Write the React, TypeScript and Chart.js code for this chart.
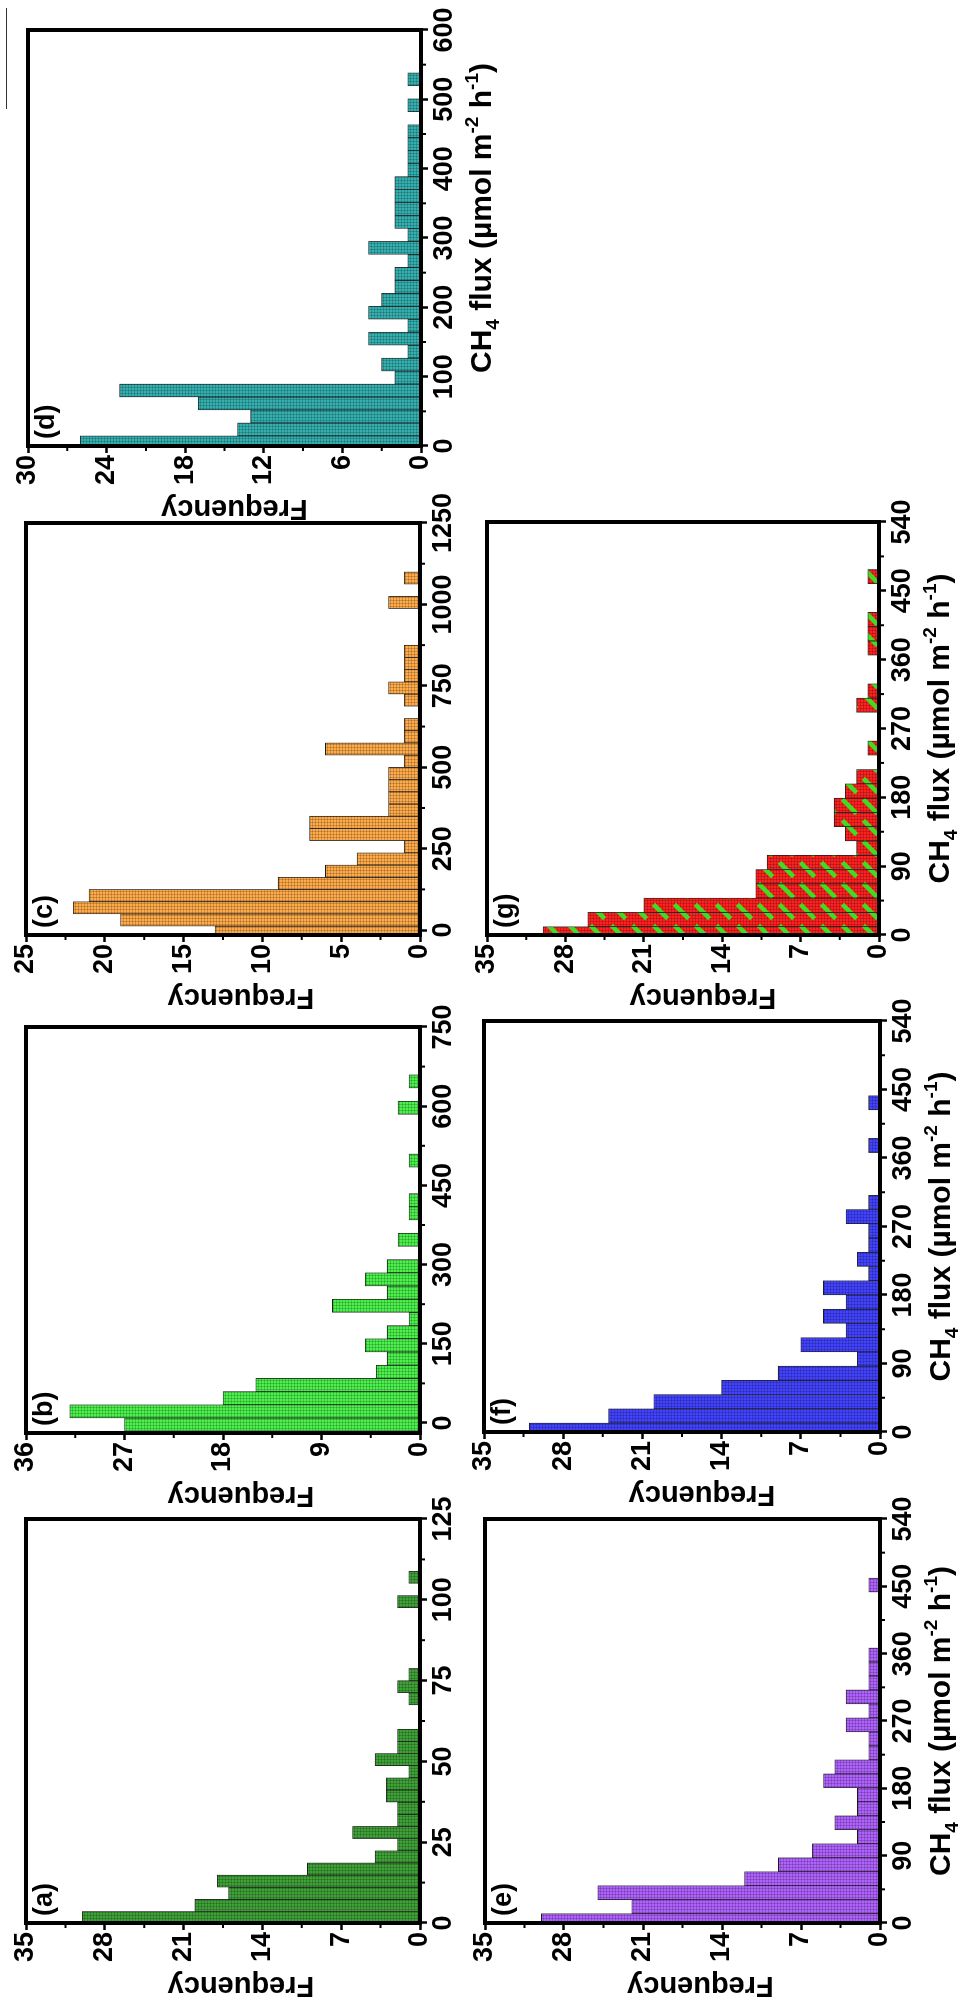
import React, { useEffect, useRef } from 'react';
import { Chart, registerables } from 'chart.js';

Chart.register(...registerables);

const FONT = 'Arial, "Liberation Sans", Helvetica, sans-serif';

// ---------- data (bin centres of CH4 flux, and counts) ----------
const fluxBinsA = [1.68, 5.44, 9.2, 12.96, 16.72, 20.48, 24.24, 28.0, 31.76, 35.52, 39.28, 43.04, 46.8, 50.56, 54.32, 58.08, 61.84, 65.6, 69.36, 73.12, 76.88, 80.64, 84.4, 88.16, 91.92, 95.68, 99.44, 103.2, 106.96];
const countsA = [30, 20, 17, 18, 10, 4, 2, 6, 2, 2, 3, 3, 1, 4, 2, 2, 0, 0, 1, 2, 1, 0, 0, 0, 0, 0, 2, 0, 1];

const fluxBinsB = [-3, 22, 47, 72, 97, 122, 147, 172, 197, 222, 247, 272, 297, 322, 347, 372, 397, 422, 447, 472, 497, 522, 547, 572, 597, 622, 647];
const countsB = [27, 32, 18, 15, 4, 3, 5, 3, 1, 8, 3, 5, 3, 0, 2, 0, 1, 1, 0, 0, 1, 0, 0, 0, 2, 0, 1];

const fluxBinsC = [-6.45, 31.05, 68.55, 106.05, 143.55, 181.05, 218.55, 256.05, 293.55, 331.05, 368.55, 406.05, 443.55, 481.05, 518.55, 556.05, 593.55, 631.05, 668.55, 706.05, 743.55, 781.05, 818.55, 856.05, 893.55, 931.05, 968.55, 1006.05, 1043.55, 1081.05];
const countsC = [13, 19, 22, 21, 9, 6, 4, 1, 7, 7, 2, 2, 2, 2, 1, 6, 1, 1, 0, 1, 2, 1, 1, 1, 0, 0, 0, 2, 0, 1];

const fluxBinsD = [5.25, 23.95, 42.65, 61.35, 80.05, 98.75, 117.45, 136.15, 154.85, 173.55, 192.25, 210.95, 229.65, 248.35, 267.05, 285.75, 304.45, 323.15, 341.85, 360.55, 379.25, 397.95, 416.65, 435.35, 454.05, 472.75, 491.45, 510.15, 528.85];
const countsD = [26, 14, 13, 17, 23, 2, 3, 1, 4, 1, 4, 3, 2, 2, 1, 4, 1, 2, 2, 2, 2, 1, 1, 1, 1, 0, 1, 0, 1];

const fluxBinsE = [3.16, 21.85, 40.54, 59.23, 77.92, 96.61, 115.3, 133.99, 152.68, 171.37, 190.06, 208.75, 227.44, 246.13, 264.82, 283.51, 302.2, 320.89, 339.58, 358.27, 376.96, 395.65, 414.34, 433.03, 451.72];
const countsE = [30, 22, 25, 12, 9, 6, 2, 4, 2, 2, 5, 4, 1, 1, 3, 1, 3, 1, 1, 1, 0, 0, 0, 0, 1];

const fluxBinsF = [2.45, 21.15, 39.85, 58.55, 77.25, 95.95, 114.65, 133.35, 152.05, 170.75, 189.45, 208.15, 226.85, 245.55, 264.25, 282.95, 301.65, 320.35, 339.05, 357.75, 376.45, 395.15, 413.85, 432.55];
const countsF = [31, 24, 20, 14, 9, 2, 7, 3, 5, 3, 5, 1, 2, 1, 1, 3, 1, 0, 0, 0, 1, 0, 0, 1];

const fluxBinsG = [1.56, 20.24, 38.92, 57.6, 76.28, 94.96, 113.64, 132.32, 151.0, 169.68, 188.36, 207.04, 225.72, 244.4, 263.08, 281.76, 300.44, 319.12, 337.8, 356.48, 375.16, 393.84, 412.52, 431.2, 449.88, 468.56];
const countsG = [30, 26, 21, 11, 11, 10, 2, 3, 4, 4, 3, 2, 0, 1, 0, 0, 2, 1, 0, 0, 1, 1, 1, 0, 0, 1];

// ---------- tick labels ----------
const fluxTicksA = [0, 25, 50, 75, 100, 125];
const fluxTicksB = [0, 150, 300, 450, 600, 750];
const fluxTicksC = [0, 250, 500, 750, 1000, 1250];
const fluxTicksD = [0, 100, 200, 300, 400, 500, 600];
const fluxTicksEFG = [0, 90, 180, 270, 360, 450, 540];
const freqTicksA = [0, 7, 14, 21, 28, 35];
const freqTicksB = [0, 9, 18, 27, 36];
const freqTicksC = [0, 5, 10, 15, 20, 25];
const freqTicksD = [0, 6, 12, 18, 24, 30];

// ---------- texts ----------
const panelLabels = ['(a)', '(b)', '(c)', '(d)', '(e)', '(f)', '(g)'];
const freqTitle = 'Frequency';
const fluxTitleParts = ['CH', '4', ' flux (\u00b5mol m', '-2', ' h', '-1', ')'];
const fluxTitleKinds = ['n', 'sub', 'n', 'sup', 'n', 'sup', 'n'];

// ---------- layout (figure drawn landscape 2015 x 960, then rotated) ----------
const Y_AXIS_W = 92;
const PAD_TOP = 26;
const PAD_RIGHT = 34;

const PANELS = [
  { key: 'a', label: panelLabels[0], bins: fluxBinsA, counts: countsA, xTicks: fluxTicksA, yTicks: freqTicksA, xMin: 0, xMax: 125, yMax: 35, color: '#3fa238', hatch: null, box: { l: 92, r: 496, t: 26, b: 420 }, title: false, titleShift: 0, freqShift: 18 },
  { key: 'b', label: panelLabels[1], bins: fluxBinsB, counts: countsB, xTicks: fluxTicksB, yTicks: freqTicksB, xMin: -19, xMax: 750, yMax: 36, color: '#4cf24c', hatch: null, box: { l: 582, r: 988, t: 26, b: 420 }, title: false, titleShift: 0, freqShift: 18 },
  { key: 'c', label: panelLabels[2], bins: fluxBinsC, counts: countsC, xTicks: fluxTicksC, yTicks: freqTicksC, xMin: -15, xMax: 1250, yMax: 25, color: '#ffab4a', hatch: null, box: { l: 1080, r: 1492, t: 26, b: 420 }, title: false, titleShift: 0, freqShift: 18 },
  { key: 'd', label: panelLabels[3], bins: fluxBinsD, counts: countsD, xTicks: fluxTicksD, yTicks: freqTicksD, xMin: 0, xMax: 600, yMax: 30, color: '#35b0b0', hatch: null, box: { l: 1569, r: 1985, t: 28, b: 421 }, title: true, titleShift: 20, freqShift: 10 },
  { key: 'e', label: panelLabels[4], bins: fluxBinsE, counts: countsE, xTicks: fluxTicksEFG, yTicks: freqTicksA, xMin: 0, xMax: 540, yMax: 35, color: '#b062ff', hatch: null, box: { l: 92, r: 496, t: 485, b: 880 }, title: true, titleShift: 0, freqShift: 18 },
  { key: 'f', label: panelLabels[5], bins: fluxBinsF, counts: countsF, xTicks: fluxTicksEFG, yTicks: freqTicksA, xMin: 0, xMax: 540, yMax: 35, color: '#4242ff', hatch: null, box: { l: 583, r: 994, t: 484, b: 880 }, title: true, titleShift: 0, freqShift: 20 },
  { key: 'g', label: panelLabels[6], bins: fluxBinsG, counts: countsG, xTicks: fluxTicksEFG, yTicks: freqTicksA, xMin: 0, xMax: 540, yMax: 35, color: '#ff2020', hatch: '#40dc22', box: { l: 1080, r: 1493, t: 487, b: 879 }, title: true, titleShift: 0, freqShift: 20 },
];

function makeFill(ctx: any, base: string, hatch: string | null) {
  const size = hatch ? 21 : 3;
  const c = document.createElement('canvas');
  c.width = size;
  c.height = size;
  const g = c.getContext('2d') as CanvasRenderingContext2D;
  g.fillStyle = base;
  g.fillRect(0, 0, size, size);
  g.fillStyle = 'rgba(0,0,0,0.18)';
  for (let i = 0; i < size; i += 3) {
    g.fillRect(0, i, size, 1);
    g.fillRect(i, 0, 1, size);
  }
  if (hatch) {
    g.strokeStyle = hatch;
    g.lineWidth = 4.5;
    g.beginPath();
    g.moveTo(size * 0.84, size * 0.16);
    g.lineTo(size * 0.16, size * 0.84);
    g.stroke();
  }
  return ctx.createPattern(c, 'repeat');
}

function minors(arr: number[]) {
  const out: number[] = [];
  for (let i = 1; i < arr.length; i++) out.push((arr[i] + arr[i - 1]) / 2);
  return out;
}

function drawFluxTitle(ctx: CanvasRenderingContext2D, cx: number, baseline: number) {
  const main = `bold 30px ${FONT}`;
  const small = `bold 19px ${FONT}`;
  let total = 0;
  const widths: number[] = [];
  fluxTitleParts.forEach((t, i) => {
    ctx.font = fluxTitleKinds[i] === 'n' ? main : small;
    const w = ctx.measureText(t).width;
    widths.push(w);
    total += w;
  });
  let x = cx - total / 2;
  ctx.textAlign = 'left';
  ctx.textBaseline = 'alphabetic';
  fluxTitleParts.forEach((t, i) => {
    const k = fluxTitleKinds[i];
    ctx.font = k === 'n' ? main : small;
    const dy = k === 'sub' ? 8 : k === 'sup' ? -13 : 0;
    ctx.fillText(t, x, baseline + dy);
    x += widths[i];
  });
}

function Panel({ spec }: { spec: any }) {
  const ref = useRef<HTMLCanvasElement>(null);
  const xAxisH = spec.title ? 90 : 44;
  const frameW = spec.box.r - spec.box.l;
  const frameH = spec.box.b - spec.box.t;
  const cw = Y_AXIS_W + frameW + PAD_RIGHT;
  const ch = PAD_TOP + frameH + xAxisH;
  const left = spec.box.l - Y_AXIS_W;
  const top = spec.box.t - PAD_TOP;

  useEffect(() => {
    const canvas = ref.current as HTMLCanvasElement;
    const ctx = canvas.getContext('2d') as CanvasRenderingContext2D;
    const fill = makeFill(ctx, spec.color, spec.hatch);

    const decor = {
      id: 'decor_' + spec.key,
      afterDraw(chart: any) {
        const c = chart.ctx as CanvasRenderingContext2D;
        const ca = chart.chartArea;
        const xs = chart.scales.x;
        const ys = chart.scales.y;
        c.save();
        c.strokeStyle = '#000';
        c.fillStyle = '#000';
        // minor ticks
        c.lineWidth = 2;
        c.beginPath();
        for (const v of minors(spec.xTicks)) {
          const p = xs.getPixelForValue(v);
          c.moveTo(p, ca.bottom);
          c.lineTo(p, ca.bottom + 5);
        }
        for (const v of minors(spec.yTicks)) {
          const p = ys.getPixelForValue(v);
          c.moveTo(ca.left, p);
          c.lineTo(ca.left - 5, p);
        }
        c.stroke();
        // frame
        c.lineWidth = 4;
        c.strokeRect(ca.left, ca.top, ca.right - ca.left, ca.bottom - ca.top);
        // panel label
        c.font = `bold 27px ${FONT}`;
        c.textAlign = 'left';
        c.textBaseline = 'top';
        c.fillText(spec.label, ca.left + 7, ca.top + 5);
        // Frequency title (rotated)
        c.save();
        c.translate(ca.left - 62, (ca.top + ca.bottom) / 2 + spec.freqShift);
        c.rotate(-Math.PI / 2);
        c.font = `bold 29px ${FONT}`;
        c.textAlign = 'center';
        c.textBaseline = 'middle';
        c.fillText(freqTitle, 0, 0);
        c.restore();
        // flux title
        if (spec.title) {
          drawFluxTitle(c, (ca.left + ca.right) / 2 + spec.titleShift, ca.bottom + 70);
        }
        c.restore();
      },
    };

    const tickFont = { family: FONT, size: 27, weight: 'bold' as const };

    const chart = new Chart(canvas, {
      type: 'bar',
      data: {
        datasets: [
          {
            data: spec.bins.map((b: number, i: number) => ({ x: b, y: spec.counts[i] })),
            backgroundColor: fill,
            borderColor: '#1c1c1c',
            borderWidth: 0.8,
            borderSkipped: false,
            barPercentage: 1,
            categoryPercentage: 1,
          } as any,
        ],
      },
      options: {
        responsive: false,
        animation: false,
        devicePixelRatio: 1,
        layout: { padding: { top: PAD_TOP, right: PAD_RIGHT, left: 0, bottom: 0 } },
        plugins: {
          legend: { display: false },
          tooltip: { enabled: false },
          title: { display: false },
        },
        scales: {
          x: {
            type: 'linear',
            position: 'bottom',
            min: spec.xMin,
            max: spec.xMax,
            offset: false,
            afterBuildTicks: (s: any) => {
              s.ticks = spec.xTicks.map((v: number) => ({ value: v }));
            },
            afterFit: (s: any) => {
              s.height = xAxisH;
            },
            ticks: {
              autoSkip: false,
              maxRotation: 0,
              minRotation: 0,
              padding: 0,
              color: '#000',
              font: tickFont,
              callback: (v: any) => String(v),
            },
            grid: {
              display: true,
              drawOnChartArea: false,
              drawTicks: true,
              tickLength: 7,
              tickWidth: 2.5,
              tickColor: '#000',
              color: '#000',
              offset: false,
            },
            border: { display: false },
          } as any,
          y: {
            type: 'linear',
            position: 'left',
            min: 0,
            max: spec.yMax,
            afterBuildTicks: (s: any) => {
              s.ticks = spec.yTicks.map((v: number) => ({ value: v }));
            },
            afterFit: (s: any) => {
              s.width = Y_AXIS_W;
            },
            ticks: {
              autoSkip: false,
              padding: 2,
              color: '#000',
              font: tickFont,
              callback: (v: any) => String(v),
            },
            grid: {
              display: true,
              drawOnChartArea: false,
              drawTicks: true,
              tickLength: 7,
              tickWidth: 2.5,
              tickColor: '#000',
              color: '#000',
            },
            border: { display: false },
          } as any,
        },
      },
      plugins: [decor],
    } as any);

    return () => chart.destroy();
  }, []);

  return (
    <canvas
      ref={ref}
      width={cw}
      height={ch}
      style={{ position: 'absolute', left, top, width: cw, height: ch }}
    />
  );
}

export default function App() {
  useEffect(() => {
    document.documentElement.style.overflow = 'hidden';
    document.body.style.overflow = 'hidden';
  }, []);
  return (
    <div
      style={{
        position: 'absolute',
        left: 0,
        top: 0,
        width: 2015,
        height: 960,
        transformOrigin: '0 0',
        transform: 'translate(0px, 2015px) rotate(-90deg)',
        background: '#fff',
      }}
    >
      {PANELS.map((p) => (
        <Panel key={p.key} spec={p} />
      ))}
      <div style={{ position: 'absolute', left: 1906, top: 5.5, width: 101, height: 1.3, background: '#333' }} />
    </div>
  );
}
